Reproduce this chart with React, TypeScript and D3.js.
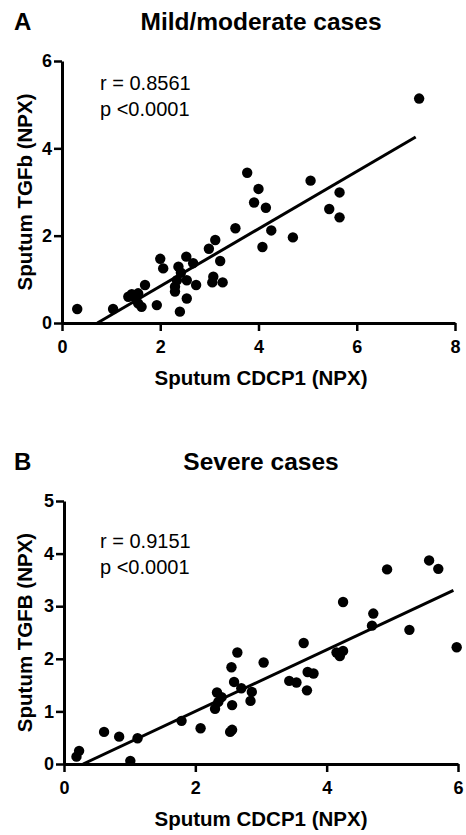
import React, { useEffect, useRef } from 'react';
import * as d3 from 'd3';

// Panel A: mild/moderate cases
const mildCdcp1 = [
  0.31, 1.04, 1.35, 1.42, 1.49, 1.55, 1.55, 1.62, 1.69, 1.93, 2.0, 2.06, 2.3, 2.3,
  2.34, 2.37, 2.4, 2.42, 2.53, 2.54, 2.54, 2.67, 2.73, 2.99, 3.12, 3.06, 3.08, 3.22,
  3.27, 3.53, 3.77, 3.91, 4.0, 4.15, 4.08, 4.26, 4.7, 5.06, 5.44, 5.65, 5.65, 7.27,
];
const mildTgfb = [
  0.32, 0.32, 0.6, 0.66, 0.58, 0.68, 0.45, 0.37, 0.87, 0.41, 1.47, 1.25, 0.72, 0.83,
  0.98, 1.29, 0.26, 1.15, 1.52, 0.98, 0.56, 1.37, 0.87, 1.7, 1.9, 0.93, 1.06, 1.42,
  0.93, 2.17, 3.44, 2.76, 3.07, 2.64, 1.74, 2.12, 1.96, 3.26, 2.61, 2.99, 2.42, 5.14,
];
const mildFit = [
  [0.72, 0],
  [7.2, 4.26],
];

// Panel B: severe cases
const severeCdcp1 = [
  0.19, 0.23, 0.61, 0.84, 1.01, 1.12, 1.79, 2.08, 2.3, 2.33, 2.35, 2.4, 2.55, 2.59,
  2.56, 2.53, 2.56, 2.64, 2.7, 2.86, 2.84, 3.04, 3.43, 3.54, 3.65, 3.71, 3.8, 3.7,
  4.15, 4.2, 4.25, 4.25, 4.71, 4.69, 4.92, 5.26, 5.56, 5.7, 5.98,
];
const severeTgfb = [
  0.14, 0.25, 0.61, 0.52, 0.06, 0.49, 0.82, 0.68, 1.05, 1.36, 1.18, 1.27, 1.84, 1.56,
  1.12, 0.61, 0.65, 2.12, 1.44, 1.37, 1.2, 1.93, 1.58, 1.55, 2.3, 1.75, 1.72, 1.4,
  2.12, 2.05, 2.15, 3.08, 2.86, 2.63, 3.7, 2.55, 3.87, 3.71, 2.22,
];
const severeFit = [
  [0.29, 0],
  [5.93, 3.3],
];

const mildXTicks = [0, 2, 4, 6, 8];
const mildYTicks = [0, 2, 4, 6];
const severeXTicks = [0, 2, 4, 6];
const severeYTicks = [0, 1, 2, 3, 4, 5];

const FONT = 'Arial, "Liberation Sans", Helvetica, sans-serif';

const App: React.FC = () => {
  const svgRef = useRef<SVGSVGElement>(null);

  useEffect(() => {
    if (!svgRef.current) return;
    const svg = d3.select(svgRef.current);
    svg.selectAll('*').remove();

    const panels = [
      {
        letter: 'A',
        title: 'Mild/moderate cases',
        yLabel: 'Sputum TGFb (NPX)',
        r: 'r = 0.8561',
        xs: mildCdcp1,
        ys: mildTgfb,
        fit: mildFit,
        xDomain: [0, 8],
        yDomain: [0, 6],
        xRange: [62, 455],
        yRange: [323, 61],
        xTicks: mildXTicks,
        yTicks: mildYTicks,
        titleY: 30,
        statY: 90,
      },
      {
        letter: 'B',
        title: 'Severe cases',
        yLabel: 'Sputum TGFB (NPX)',
        r: 'r = 0.9151',
        xs: severeCdcp1,
        ys: severeTgfb,
        fit: severeFit,
        xDomain: [0, 6],
        yDomain: [0, 5],
        xRange: [64, 458],
        yRange: [764, 501],
        xTicks: severeXTicks,
        yTicks: severeYTicks,
        titleY: 470,
        statY: 548,
      },
    ];

    panels.forEach(p => {
      const x = d3.scaleLinear().domain(p.xDomain).range(p.xRange);
      const y = d3.scaleLinear().domain(p.yDomain).range(p.yRange);
      const g = svg.append('g').style('font-family', FONT);

      // Panel letter and title
      g.append('text')
        .attr('x', 14)
        .attr('y', p.titleY)
        .style('font-size', '24px')
        .style('font-weight', 'bold')
        .text(p.letter);
      g.append('text')
        .attr('x', 261)
        .attr('y', p.titleY)
        .attr('text-anchor', 'middle')
        .style('font-size', '24.5px')
        .style('font-weight', 'bold')
        .text(p.title);

      // Axes
      const xAxis = g
        .append('g')
        .attr('transform', `translate(0,${p.yRange[0]})`)
        .call(
          d3
            .axisBottom(x)
            .tickValues(p.xTicks)
            .tickSize(8)
            .tickSizeOuter(0)
            .tickPadding(9)
            .tickFormat(d3.format('d'))
        );
      const yAxis = g
        .append('g')
        .attr('transform', `translate(${p.xRange[0]},0)`)
        .call(
          d3
            .axisLeft(y)
            .tickValues(p.yTicks)
            .tickSize(8)
            .tickSizeOuter(0)
            .tickPadding(2)
            .tickFormat(d3.format('d'))
        );
      [xAxis, yAxis].forEach(a => {
        a.select('.domain').attr('stroke', '#000').attr('stroke-width', 3);
        a.selectAll('.tick line').attr('stroke', '#000').attr('stroke-width', 2.5);
        a.selectAll('.tick text')
          .attr('fill', '#000')
          .style('font-family', FONT)
          .style('font-size', '18px')
          .style('font-weight', 'bold');
      });

      // Axis labels
      g.append('text')
        .attr('x', 261)
        .attr('y', p.yRange[0] + 62)
        .attr('text-anchor', 'middle')
        .style('font-size', '20.5px')
        .style('font-weight', 'bold')
        .text('Sputum CDCP1 (NPX)');
      g.append('text')
        .attr('transform', `translate(31.5,${(p.yRange[0] + p.yRange[1]) / 2}) rotate(-90)`)
        .attr('text-anchor', 'middle')
        .style('font-size', '20.5px')
        .style('font-weight', 'bold')
        .text(p.yLabel);

      // Stats
      g.append('text').attr('x', 100).attr('y', p.statY).style('font-size', '20px').text(p.r);
      g.append('text')
        .attr('x', 100)
        .attr('y', p.statY + 26)
        .style('font-size', '20px')
        .text('p <0.0001');

      // Regression line
      g.append('line')
        .attr('x1', x(p.fit[0][0]))
        .attr('y1', y(p.fit[0][1]))
        .attr('x2', x(p.fit[1][0]))
        .attr('y2', y(p.fit[1][1]))
        .attr('stroke', '#000')
        .attr('stroke-width', 3);

      // Points
      g.selectAll('.dot')
        .data(p.xs.map((v, i) => [v, p.ys[i]]))
        .enter()
        .append('circle')
        .attr('class', 'dot')
        .attr('cx', d => x(d[0]))
        .attr('cy', d => y(d[1]))
        .attr('r', 5.2)
        .attr('fill', '#000');
    });
  }, []);

  return (
    <div style={{ position: 'absolute', left: 0, top: 0 }}>
      <svg ref={svgRef} width={466} height={835} style={{ display: 'block', background: '#fff' }} />
    </div>
  );
};

export default App;
